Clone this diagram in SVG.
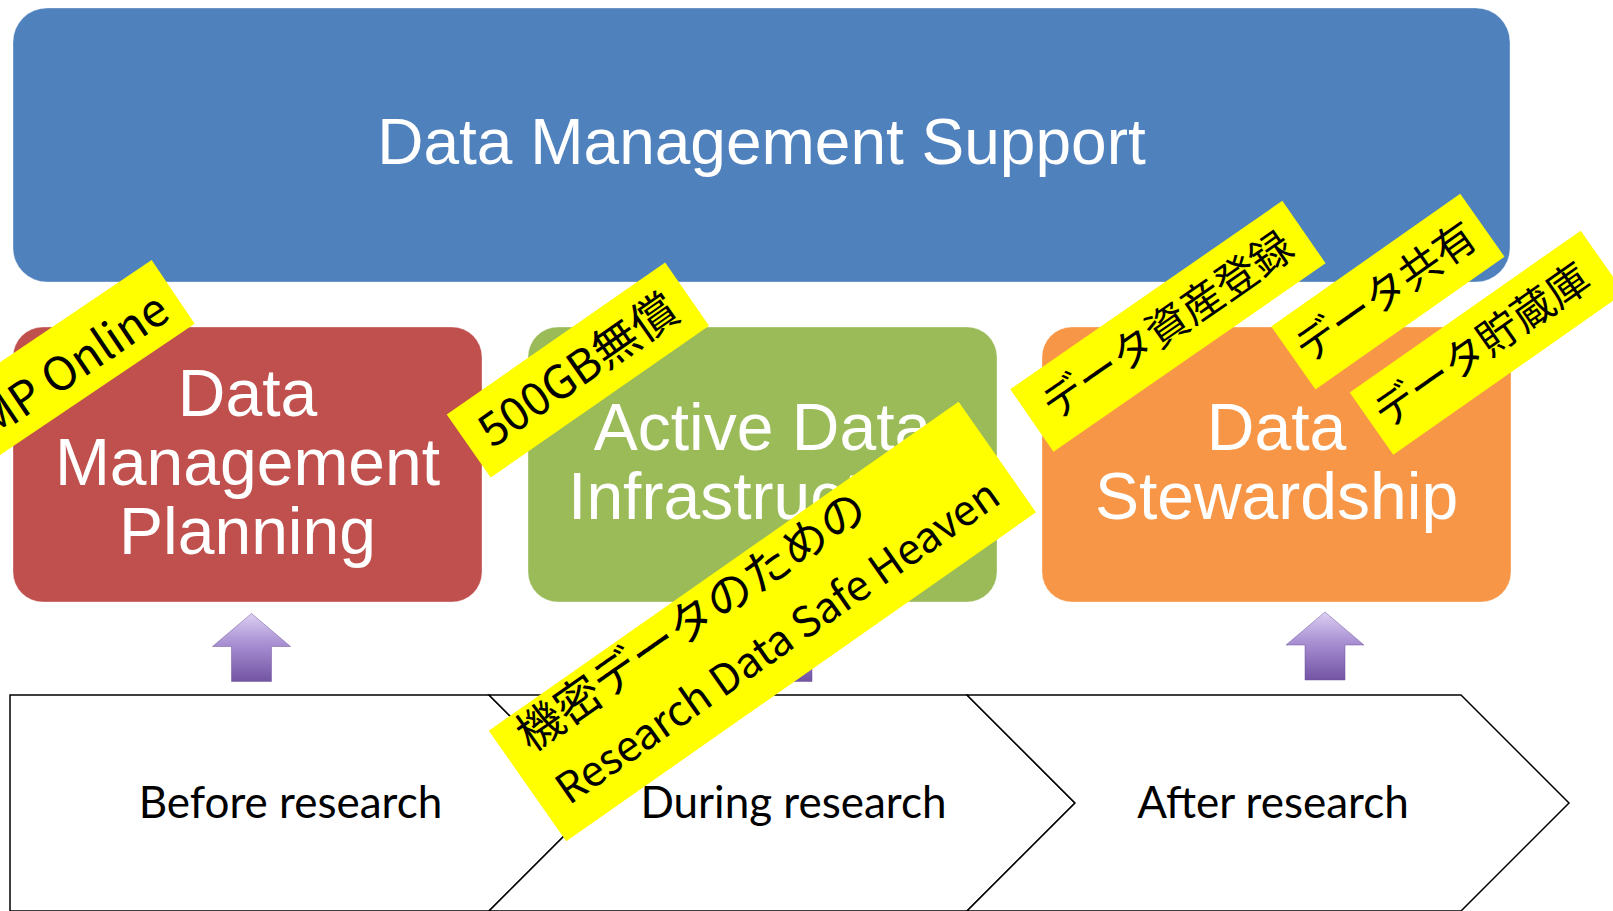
<svg xmlns="http://www.w3.org/2000/svg" width="1613" height="911" viewBox="0 0 1613 911">
<style>
.box{stroke:#ffffff;stroke-opacity:0.35;stroke-width:1}
.bt{font-family:"Liberation Sans",Arial,sans-serif;fill:#ffffff;text-anchor:middle}
.chev{fill:#ffffff;stroke:#000000;stroke-width:1.5;stroke-linejoin:miter}
.ct{font-family:Lato,"Open Sans",sans-serif;font-size:44px;fill:#000000;text-anchor:middle}
.lab{fill:#ffff00}
.lt{font-family:"Noto Sans CJK JP",sans-serif;fill:#000000}
.arr{fill:url(#ag);stroke:#6a4f98;stroke-width:0.8;stroke-opacity:0.6}
</style>
<defs>
<linearGradient id="ag" x1="0" y1="0" x2="0" y2="1">
<stop offset="0" stop-color="#dccff2"/>
<stop offset="0.45" stop-color="#a88fd2"/>
<stop offset="1" stop-color="#7254a3"/>
</linearGradient>
<path id="uparrow" d="M0,0 L39,33 L20,33 L20,68 L-20,68 L-20,33 L-39,33 Z"/>
</defs>
<rect width="1613" height="911" fill="#ffffff"/>

<g id="support">
<rect class="box" x="13" y="8" width="1497" height="274" rx="34" ry="34" fill="#4f81bd"/>
<text class="bt" x="761.5" y="164" font-size="64">Data Management Support</text>
</g>

<g id="planning">
<rect class="box" x="13" y="327" width="469" height="275" rx="30" ry="30" fill="#c0504d"/>
<text class="bt" font-size="66"><tspan x="247.5" y="416">Data</tspan><tspan x="247.5" y="485">Management</tspan><tspan x="247.5" y="554">Planning</tspan></text>
</g>

<g id="infrastructure">
<rect class="box" x="528" y="327" width="469" height="275" rx="30" ry="30" fill="#9bbb59"/>
<text class="bt" font-size="66"><tspan x="762.5" y="450">Active Data</tspan><tspan x="762.5" y="518.5">Infrastructure</tspan></text>
</g>

<g id="stewardship">
<rect class="box" x="1042" y="327" width="469" height="275" rx="30" ry="30" fill="#f79646"/>
<text class="bt" font-size="66"><tspan x="1276.5" y="450">Data</tspan><tspan x="1276.5" y="518.5">Stewardship</tspan></text>
</g>

<g id="connectors">
<use href="#uparrow" class="arr" transform="translate(251.5,613.5)"/>
<use href="#uparrow" class="arr" transform="translate(792,613.5)"/>
<use href="#uparrow" class="arr" transform="translate(1325,612)"/>
</g>

<g id="before">
<path class="chev" d="M10,695 L489,695 L597,803 L489,911 L10,911 Z"/>
<text class="ct" x="290.5" y="818">Before research</text>
</g>
<g id="during">
<path class="chev" d="M489,695 L967,695 L1075,803 L967,911 L489,911 L597,803 Z"/>
<text class="ct" x="793.5" y="818">During research</text>
</g>
<g id="after">
<path class="chev" d="M967,695 L1461,695 L1569,803 L1461,911 L967,911 L1075,803 Z"/>
<text class="ct" x="1273" y="818">After research</text>
</g>

<g id="label-dmponline" transform="translate(62.9,366.2) rotate(-34)">
<rect class="lab" x="-133" y="-38.5" width="266" height="77"/>
<text class="lt" x="-7" y="21" font-size="46" text-anchor="middle">DMP Online</text>
</g>

<g id="label-500gb" transform="translate(577.9,370.1) rotate(-34.8)">
<rect class="lab" x="-133" y="-38.5" width="266" height="77"/>
<text class="lt" x="0" y="16" font-size="46" text-anchor="middle">500GB無償</text>
</g>

<g id="label-safehaven" transform="translate(762.4,621.5) rotate(-35)">
<rect class="lab" x="-286.75" y="-67.5" width="573.5" height="135"/>
<text class="lt"><tspan x="-265" y="-25" font-size="46">機密データのための</tspan><tspan x="-264" y="40" font-size="42">Research Data Safe Heaven</tspan></text>
</g>

<g id="label-asset" transform="translate(1167.9,326.25) rotate(-34.7)">
<rect class="lab" x="-165.5" y="-38" width="331" height="76"/>
<text class="lt" x="0" y="14" font-size="42" text-anchor="middle">データ資産登録</text>
</g>

<g id="label-share" transform="translate(1387.85,291.6) rotate(-35.1)">
<rect class="lab" x="-115.5" y="-38.5" width="231" height="77"/>
<text class="lt" x="-2" y="14" font-size="42" text-anchor="middle">データ共有</text>
</g>

<g id="label-storage" transform="translate(1487,342.65) rotate(-35)">
<rect class="lab" x="-141" y="-38" width="282" height="76"/>
<text class="lt" x="-6" y="14" font-size="42" text-anchor="middle">データ貯蔵庫</text>
</g>
</svg>
